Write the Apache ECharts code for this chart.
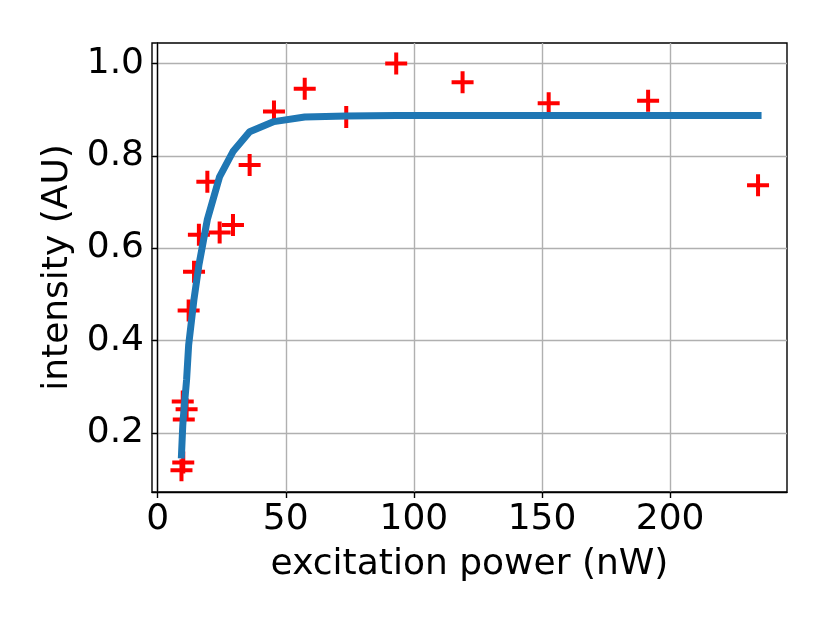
<!DOCTYPE html>
<html>
<head>
<meta charset="utf-8">
<script src="https://cdn.jsdelivr.net/npm/echarts@6/dist/echarts.min.js"></script>
<style>
  html, body { margin: 0; padding: 0; background: #fff; }
  #chart { width: 830px; height: 623px; }
</style>
</head>
<body>
<div id="chart"></div>
<script>
// measured points (red crosses)
var powerNW   = [9.3, 10.0, 9.8, 11.3, 10.2, 12.1, 14.2, 16.1, 19.4, 24.2, 29.4, 35.9, 45.4, 57.4, 73.6, 93.1, 119.0, 152.6, 191.4, 234.3];
var intensity = [0.119, 0.136, 0.268, 0.251, 0.229, 0.465, 0.549, 0.629, 0.744, 0.634, 0.650, 0.780, 0.896, 0.945, 0.884, 1.000, 0.959, 0.914, 0.919, 0.736];

// fitted curve at the sorted powers
var fitPower     = [9.3, 9.8, 10.0, 10.2, 11.3, 12.1, 14.2, 16.1, 19.4, 24.2, 29.4, 35.9, 45.4, 57.4, 73.6, 93.1, 119.0, 152.6, 191.4, 234.3];
var fitIntensity = [0.152, 0.215, 0.232, 0.244, 0.315, 0.390, 0.490, 0.563, 0.662, 0.755, 0.809, 0.852, 0.874, 0.884, 0.886, 0.887, 0.887, 0.887, 0.887, 0.887];

var xTicks = [0, 50, 100, 150, 200];
var yTicks = [0.2, 0.4, 0.6, 0.8, 1.0];

var font = 'DejaVu Sans';
var plus = 'path://M9,0H13V9H22V13H13V22H9V13H0V9H9Z';

var points = powerNW.map(function (p, i) { return [p, intensity[i]]; });
var fit = fitPower.map(function (p, i) { return [p, fitIntensity[i]]; });

var option = {
    animation: false,
    backgroundColor: '#fff',
    grid: {
        left: 152, top: 43, width: 635, height: 449,
        show: true, borderColor: '#000', borderWidth: 1.4
    },
    xAxis: {
        type: 'value',
        min: -2.2, max: 245.6,
        name: 'excitation power (nW)',
        nameLocation: 'middle',
        nameGap: 55,
        nameTextStyle: { fontFamily: font, fontSize: 36, color: '#000' },
        axisLine: { show: true, lineStyle: { color: '#000', width: 1.4 } },
        axisTick: { show: true, length: 6, lineStyle: { color: '#000', width: 1.4 }, customValues: xTicks },
        axisLabel: { customValues: xTicks, margin: 10, fontFamily: font, fontSize: 36, color: '#000' },
        splitLine: { show: true, lineStyle: { color: '#b0b0b0', width: 1.4 } }
    },
    yAxis: {
        type: 'value',
        min: 0.0719, max: 1.0442,
        name: 'intensity (AU)',
        nameLocation: 'middle',
        nameGap: 76,
        nameTextStyle: { fontFamily: font, fontSize: 36, color: '#000' },
        axisLine: { show: true, lineStyle: { color: '#000', width: 1.4 } },
        axisTick: { show: true, length: 6, lineStyle: { color: '#000', width: 1.4 }, customValues: yTicks },
        axisLabel: {
            customValues: yTicks, margin: 8, fontFamily: font, fontSize: 36, color: '#000',
            formatter: function (v) { return v.toFixed(1); }
        },
        splitLine: { show: true, lineStyle: { color: '#b0b0b0', width: 1.4 } }
    },
    series: [
        {
            type: 'scatter',
            data: points,
            symbol: plus,
            symbolSize: 22,
            itemStyle: { color: '#ff0000', opacity: 1 }
        },
        {
            type: 'line',
            data: fit,
            showSymbol: false,
            symbol: 'none',
            lineStyle: { color: '#1f77b4', width: 7, cap: 'square', join: 'round' }
        }
    ]
};

var myChart = echarts.init(document.getElementById('chart'));
myChart.setOption(option);
</script>
</body>
</html>
